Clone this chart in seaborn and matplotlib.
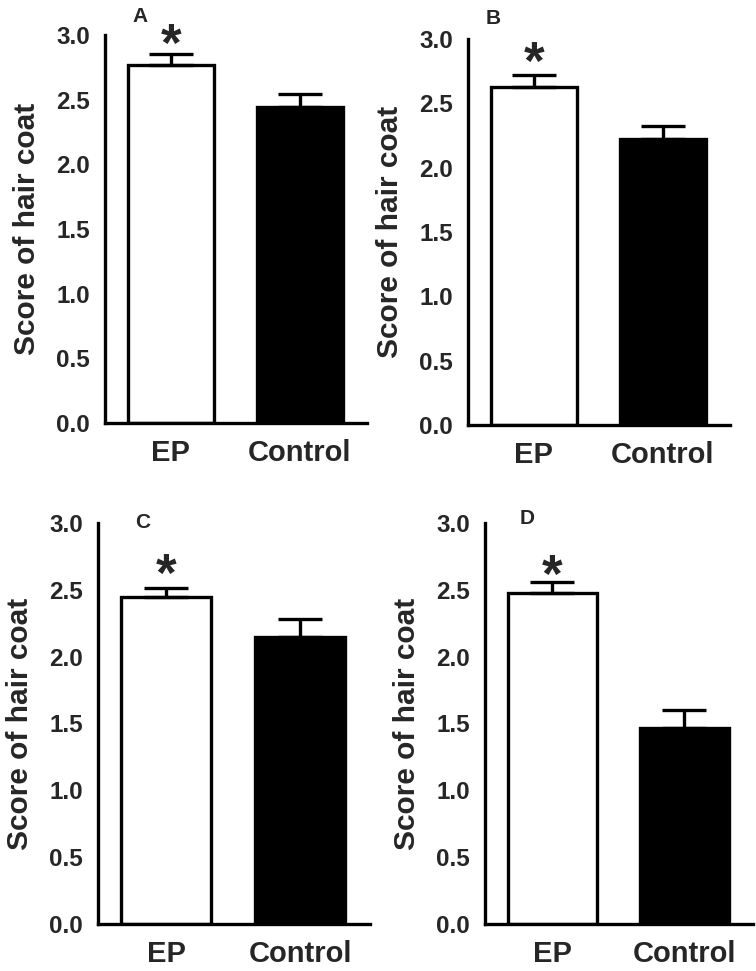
import matplotlib
matplotlib.use('Agg')
import matplotlib.pyplot as plt
import seaborn as sns
import pandas as pd

groups = ['EP', 'Control']
panels = ['A', 'B', 'C', 'D']
means_a = [2.77, 2.44]
sem_a = [0.08, 0.10]
means_b = [2.63, 2.22]
sem_b = [0.09, 0.10]
means_c = [2.45, 2.15]
sem_c = [0.06, 0.13]
means_d = [2.48, 1.47]
sem_d = [0.08, 0.13]
yticks = [0.0, 0.5, 1.0, 1.5, 2.0, 2.5, 3.0]

sns.set_style('white')
plt.rcParams['font.family'] = ['Liberation Sans', 'DejaVu Sans']

fig = plt.figure(figsize=(7.56, 9.71), dpi=100)
W, H = 756, 971

# axes boxes in pixels: left, right, bottom, top
boxes = [(105, 367, 423, 35), (468, 730, 425, 39),
         (98, 370, 924, 523), (485, 753, 924, 523)]
letter_pos = [(140, 16), (493, 18), (143, 522), (527, 518)]
star_off = [-5.0, -3.0, -2.0, -7.0]
all_means = [means_a, means_b, means_c, means_d]
all_sem = [sem_a, sem_b, sem_c, sem_d]

lw = 2.4
for i, (l, r, b, t) in enumerate(boxes):
    ax = fig.add_axes([l / W, 1 - b / H, (r - l) / W, (b - t) / H])
    df = pd.DataFrame({'group': groups, 'score': all_means[i]})
    sns.barplot(data=df, x='group', y='score', hue='group',
                palette=['white', 'black'], edgecolor='black',
                linewidth=lw, width=0.67, legend=False, ax=ax)
    eb = ax.errorbar(range(len(groups)), all_means[i],
                     yerr=[[0] * len(groups), all_sem[i]], fmt='none',
                     ecolor='black', elinewidth=lw, capsize=15.5,
                     capthick=lw, zorder=1)
    for c in eb.lines[1]:
        c.set_solid_capstyle('round')
    # asterisk over EP
    ax.annotate('*', xy=(0, all_means[i][0] + all_sem[i][0]),
                xytext=(0, star_off[i]), textcoords='offset points',
                ha='center', va='baseline', fontsize=38, fontweight='bold')
    ax.set_ylim(0, 3.0)
    ax.set_xlim(-0.51, 1.52)
    ax.set_yticks(yticks)
    ax.set_yticklabels(['%.1f' % v for v in yticks])
    ax.set_xlabel('')
    ax.set_ylabel('Score of hair coat', fontsize=21.5, fontweight='bold',
                  labelpad=11)
    sns.despine(ax=ax)
    for s in ['left', 'bottom']:
        ax.spines[s].set_linewidth(lw)
        ax.spines[s].set_color('black')
    ax.tick_params(axis='both', direction='out', length=7.5, width=lw,
                   color='black', labelsize=17.5, pad=3.5)
    ax.tick_params(axis='x', labelsize=21, pad=4)
    for lab in ax.get_xticklabels() + ax.get_yticklabels():
        lab.set_fontweight('bold')
    lx, ly = letter_pos[i]
    fig.text(lx / W, 1 - ly / H, panels[i], fontsize=15, fontweight='bold',
             ha='center', va='center')

fig.savefig('out.png', dpi=100)
